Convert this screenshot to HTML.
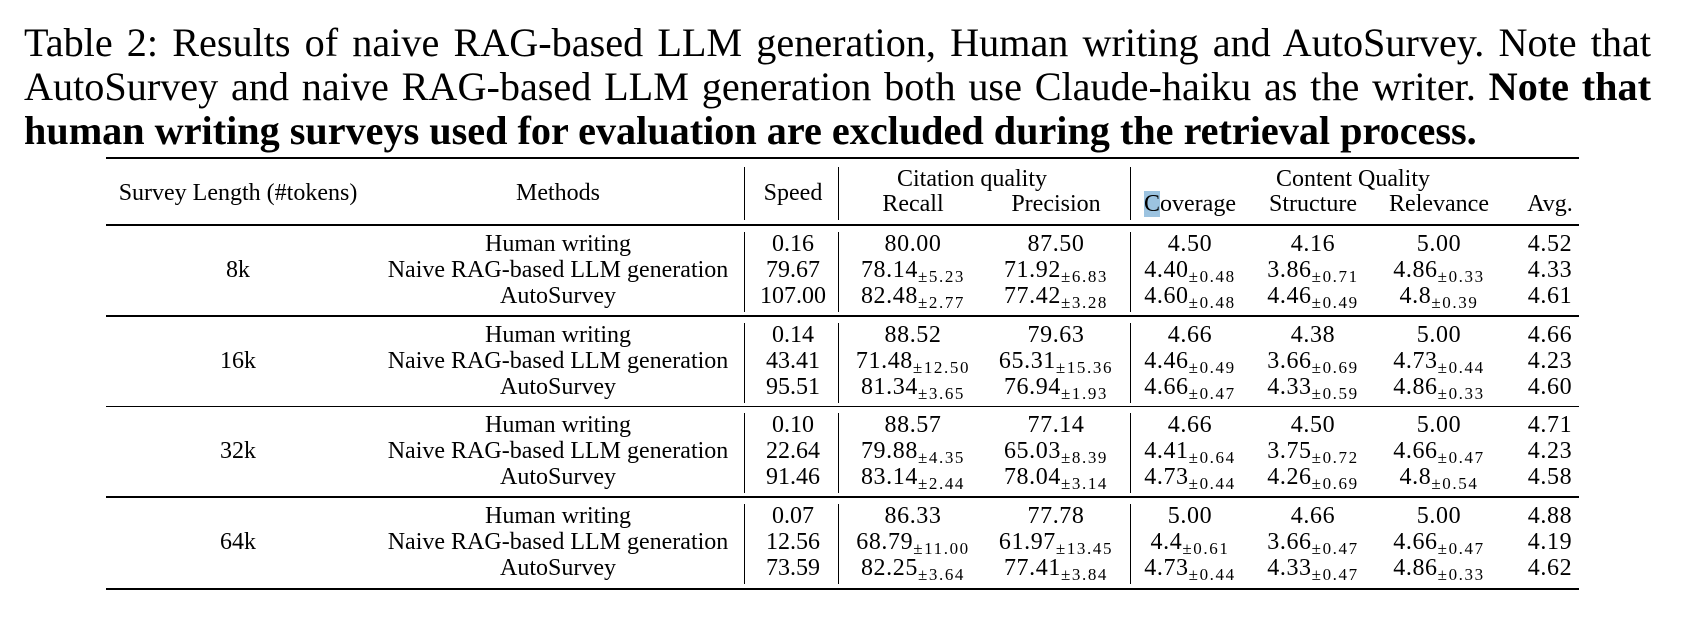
<!DOCTYPE html>
<html><head><meta charset="utf-8"><style>
body{margin:0;width:1681px;height:617px;background:#fff;position:relative;overflow:hidden;font-family:"Liberation Serif",serif;color:#000}
.cap{position:absolute;left:24px;width:1627px;font-size:40.2px;line-height:44px;white-space:nowrap}
.j{text-align:justify;text-align-last:justify;white-space:normal}
.t{position:absolute;width:400px;text-align:center;font-size:24px;line-height:26px;white-space:nowrap}
.n{letter-spacing:0.6px}
.s{font-size:17px;letter-spacing:1.6px;position:relative;top:5px}
.hr{position:absolute;left:106px;width:1473px;background:#000}
.vr{position:absolute;width:1.3px;background:#000}
</style></head><body>
<div class="cap j" style="top:21px">Table 2: Results of naive RAG-based LLM generation, Human writing and AutoSurvey. Note that</div>
<div class="cap j" style="top:65px">AutoSurvey and naive RAG-based LLM generation both use Claude-haiku as the writer. <b>Note that</b></div>
<div class="cap" style="top:109px;font-weight:bold">human writing surveys used for evaluation are excluded during the retrieval process.</div>
<div id="tbl"></div>
<script>
const lengths=["8k","16k","32k","64k"];
const methods=["Human writing","Naive RAG-based LLM generation","AutoSurvey"];
const speed=[["0.16","79.67","107.00"],["0.14","43.41","95.51"],["0.10","22.64","91.46"],["0.07","12.56","73.59"]];
const recall=[["80.00","78.14|±5.23","82.48|±2.77"],["88.52","71.48|±12.50","81.34|±3.65"],["88.57","79.88|±4.35","83.14|±2.44"],["86.33","68.79|±11.00","82.25|±3.64"]];
const precision=[["87.50","71.92|±6.83","77.42|±3.28"],["79.63","65.31|±15.36","76.94|±1.93"],["77.14","65.03|±8.39","78.04|±3.14"],["77.78","61.97|±13.45","77.41|±3.84"]];
const coverage=[["4.50","4.40|±0.48","4.60|±0.48"],["4.66","4.46|±0.49","4.66|±0.47"],["4.66","4.41|±0.64","4.73|±0.44"],["5.00","4.4|±0.61","4.73|±0.44"]];
const structure=[["4.16","3.86|±0.71","4.46|±0.49"],["4.38","3.66|±0.69","4.33|±0.59"],["4.50","3.75|±0.72","4.26|±0.69"],["4.66","3.66|±0.47","4.33|±0.47"]];
const relevance=[["5.00","4.86|±0.33","4.8|±0.39"],["5.00","4.73|±0.44","4.86|±0.33"],["5.00","4.66|±0.47","4.8|±0.54"],["5.00","4.66|±0.47","4.86|±0.33"]];
const avg=[["4.52","4.33","4.61"],["4.66","4.23","4.60"],["4.71","4.23","4.58"],["4.88","4.19","4.62"]];
const T=document.getElementById('tbl');
function txt(x,y,html,name){const d=document.createElement('div');d.className='t';d.style.left=(x-200)+'px';d.style.top=(y-13)+'px';d.innerHTML=html;


T.appendChild(d);return d;}
function hr(y,h,name){const d=document.createElement('div');d.className='hr';d.style.top=y+'px';d.style.height=h+'px';


T.appendChild(d);}
function vr(x,y1,y2,name){const d=document.createElement('div');d.className='vr';d.style.left=x+'px';d.style.top=y1+'px';d.style.height=(y2-y1)+'px';


T.appendChild(d);}
function fmt(v){const p=v.split('|');return p.length>1?'<span class="n">'+p[0]+'</span><span class="s">'+p[1]+'</span>':'<span class="n">'+p[0]+'</span>';}
hr(157,2.2,'top-rule');hr(224,1.5,'header-rule');
txt(238,193,'Survey Length (#tokens)','header-survey-length');
txt(558,193,'Methods','header-methods');
txt(793,193,'Speed','header-speed');
txt(972,179,'Citation quality','header-citation-quality');
txt(1353,179,'Content Quality','header-content-quality');
txt(913,204,'Recall','header-recall');
txt(1056,204,'Precision','header-precision');
txt(1190,204,'<span style="background:#9cc3e0">C</span>overage','header-coverage');
txt(1313,204,'Structure','header-structure');
txt(1439,204,'Relevance','header-relevance');
txt(1550,204,'Avg.','header-avg');
vr(744,167,220,'header-divider-speed');vr(838,167,220,'header-divider-citation');vr(1130,167,220,'header-divider-content');
const cols=[[913,recall,'recall'],[1056,precision,'precision'],[1190,coverage,'coverage'],[1313,structure,'structure'],[1439,relevance,'relevance'],[1550,avg,'avg']];
for(let g=0;g<lengths.length;g++){
  const top=225+g*90.5;
  const y0=top+19;
  txt(238,y0+26,lengths[g],'length-'+lengths[g]);
  for(let r=0;r<3;r++){
    const y=y0+r*26;
    txt(558,y,methods[r],'method-'+g+'-'+r);
    txt(793,y,speed[g][r],'speed-'+g+'-'+r);
    cols.forEach(c=>txt(c[0],y,fmt(c[1][g][r]),c[2]+'-'+g+'-'+r));
  }
  vr(744,top+7,top+87,'divider-speed-'+g);vr(838,top+7,top+87,'divider-citation-'+g);vr(1130,top+7,top+87,'divider-content-'+g);
  if(g<3)hr(top+90,1.5,'group-rule-'+g);
}
hr(588,2.2,'bottom-rule');
</script>
</body></html>
